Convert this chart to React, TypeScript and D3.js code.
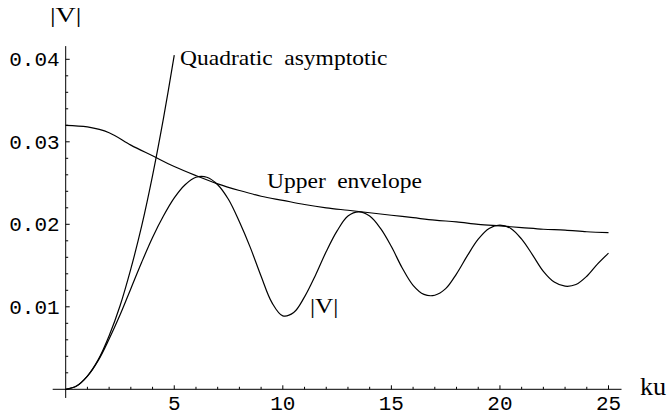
import React from "react";
import * as d3 from "d3";

const WIDTH = 667;
const HEIGHT = 418;

// |V|, step 0.5 in ku
const vX = [
  0, 0.5, 1, 1.5, 2, 2.5, 3, 3.5, 4, 4.5, 5, 5.5, 6, 6.5, 7, 7.5, 8, 8.5, 9, 9.5,
  10, 10.5, 11, 11.5, 12, 12.5, 13, 13.5, 14, 14.5, 15, 15.5, 16, 16.5, 17, 17.5,
  18, 18.5, 19, 19.5, 20, 20.5, 21, 21.5, 22, 22.5, 23, 23.5, 24, 24.5, 25,
];
const vY = [
  0, 0.0004, 0.0016, 0.0035, 0.0061, 0.009, 0.0122, 0.0154, 0.0184, 0.021, 0.0232,
  0.0248, 0.0257, 0.0257, 0.0248, 0.023, 0.0203, 0.0172, 0.0137, 0.0105, 0.0089,
  0.0093, 0.0112, 0.0138, 0.0167, 0.0192, 0.021, 0.0215, 0.021, 0.0195, 0.0173,
  0.0147, 0.0126, 0.0115, 0.0114, 0.0122, 0.014, 0.0162, 0.0182, 0.0195, 0.0199,
  0.0195, 0.0182, 0.0163, 0.0143, 0.013, 0.0125, 0.0127, 0.0137, 0.0152, 0.0165,
];

// upper envelope, step 1
const envX = d3.range(0, 26);
const envY = [
  0.032, 0.0318, 0.0311, 0.0296, 0.0283, 0.027, 0.0259, 0.0249, 0.0241, 0.0234,
  0.0229, 0.0224, 0.022, 0.0217, 0.0214, 0.0211, 0.0208, 0.0205, 0.0203, 0.02,
  0.0198, 0.0196, 0.0194, 0.0193, 0.0191, 0.019,
];

// quadratic asymptotic
const quadX = [0, 0.5, 1, 1.5, 2, 2.5, 3, 3.5, 4, 4.5, 5];
const quadY = [0, 0.0004, 0.0016, 0.0036, 0.0065, 0.0101, 0.0146, 0.0198, 0.0259, 0.0328, 0.0405];

const xMajor = [5, 10, 15, 20, 25];
const yMajor = [0.01, 0.02, 0.03, 0.04];
const yLabels = ["0.01", "0.02", "0.03", "0.04"];

const x = d3.scaleLinear().domain([0, 25]).range([65.7, 608.5]);
const y = d3.scaleLinear().domain([0, 0.04]).range([389.3, 59.3]);

const serif = "'Liberation Serif', 'Times New Roman', serif";
const mono = "'Liberation Mono', 'Courier New', monospace";

const line = d3
  .line<[number, number]>()
  .x((d) => x(d[0]))
  .y((d) => y(d[1]))
  .curve(d3.curveCatmullRom.alpha(0.5));

const zip = (a: number[], b: number[]) => a.map((v, i) => [v, b[i]] as [number, number]);

// wide text, as in the original export
const Label = ({ px, py, sx = 1.12, size = 21, anchor = "start", ws = 0, children }: any) => (
  <text
    transform={`translate(${px},${py}) scale(${sx},1)`}
    fontSize={size}
    textAnchor={anchor}
    wordSpacing={ws}
  >
    {children}
  </text>
);

export default function App() {
  const xMinor = d3.range(1, 26).filter((d) => d % 5 !== 0);
  const yMinor = d3.range(1, 21).map((i) => i * 0.002).filter((_, i) => (i + 1) % 5 !== 0);
  return (
    <svg
      width={WIDTH}
      height={HEIGHT}
      style={{ position: "absolute", left: 0, top: 0, background: "#fff" }}
    >
      <g stroke="#000" strokeWidth={1} fill="none">
        {/* axes */}
        <line x1={x(-0.6)} x2={x(25.6)} y1={y(0)} y2={y(0)} />
        <line x1={x(0)} x2={x(0)} y1={y(-0.00105)} y2={y(0.0416)} />
        {xMajor.map((d) => (
          <line key={"xM" + d} x1={x(d)} x2={x(d)} y1={y(0)} y2={y(0) - 4} />
        ))}
        {xMinor.map((d) => (
          <line key={"xm" + d} x1={x(d)} x2={x(d)} y1={y(0)} y2={y(0) - 2.5} />
        ))}
        {yMajor.map((d) => (
          <line key={"yM" + d} x1={x(0)} x2={x(0) + 4} y1={y(d)} y2={y(d)} />
        ))}
        {yMinor.map((d) => (
          <line key={"ym" + d} x1={x(0)} x2={x(0) + 2.5} y1={y(d)} y2={y(d)} />
        ))}
      </g>

      <g fill="none" stroke="#000" strokeWidth={1.2}>
        <path d={line(zip(quadX, quadY)) ?? ""} />
        <path d={line(zip(envX, envY)) ?? ""} />
        <path d={line(zip(vX, vY)) ?? ""} />
      </g>

      <g fontFamily={mono} fontSize={21} fill="#000">
        {xMajor.map((d) => (
          <text key={"xl" + d} x={x(d)} y={410} textAnchor="middle">
            {d}
          </text>
        ))}
        {yMajor.map((d, i) => (
          <text key={"yl" + d} x={x(0) - 6} y={y(d) + 7} textAnchor="end">
            {yLabels[i]}
          </text>
        ))}
      </g>

      <g fontFamily={serif} fill="#000">
        <Label px={x(0)} py={22} sx={1.4} size={20} anchor="middle">|V|</Label>
        <Label px={640} py={395} sx={1.05} size={25}>ku</Label>
        <Label px={x(5.27)} py={y(0.0393)} ws={5}>Quadratic asymptotic</Label>
        <Label px={x(9.27)} py={y(0.0244)} ws={5}>Upper envelope</Label>
        <Label px={x(11.25)} py={y(0.00925)} sx={1.15} size={22}>|V|</Label>
      </g>
    </svg>
  );
}
